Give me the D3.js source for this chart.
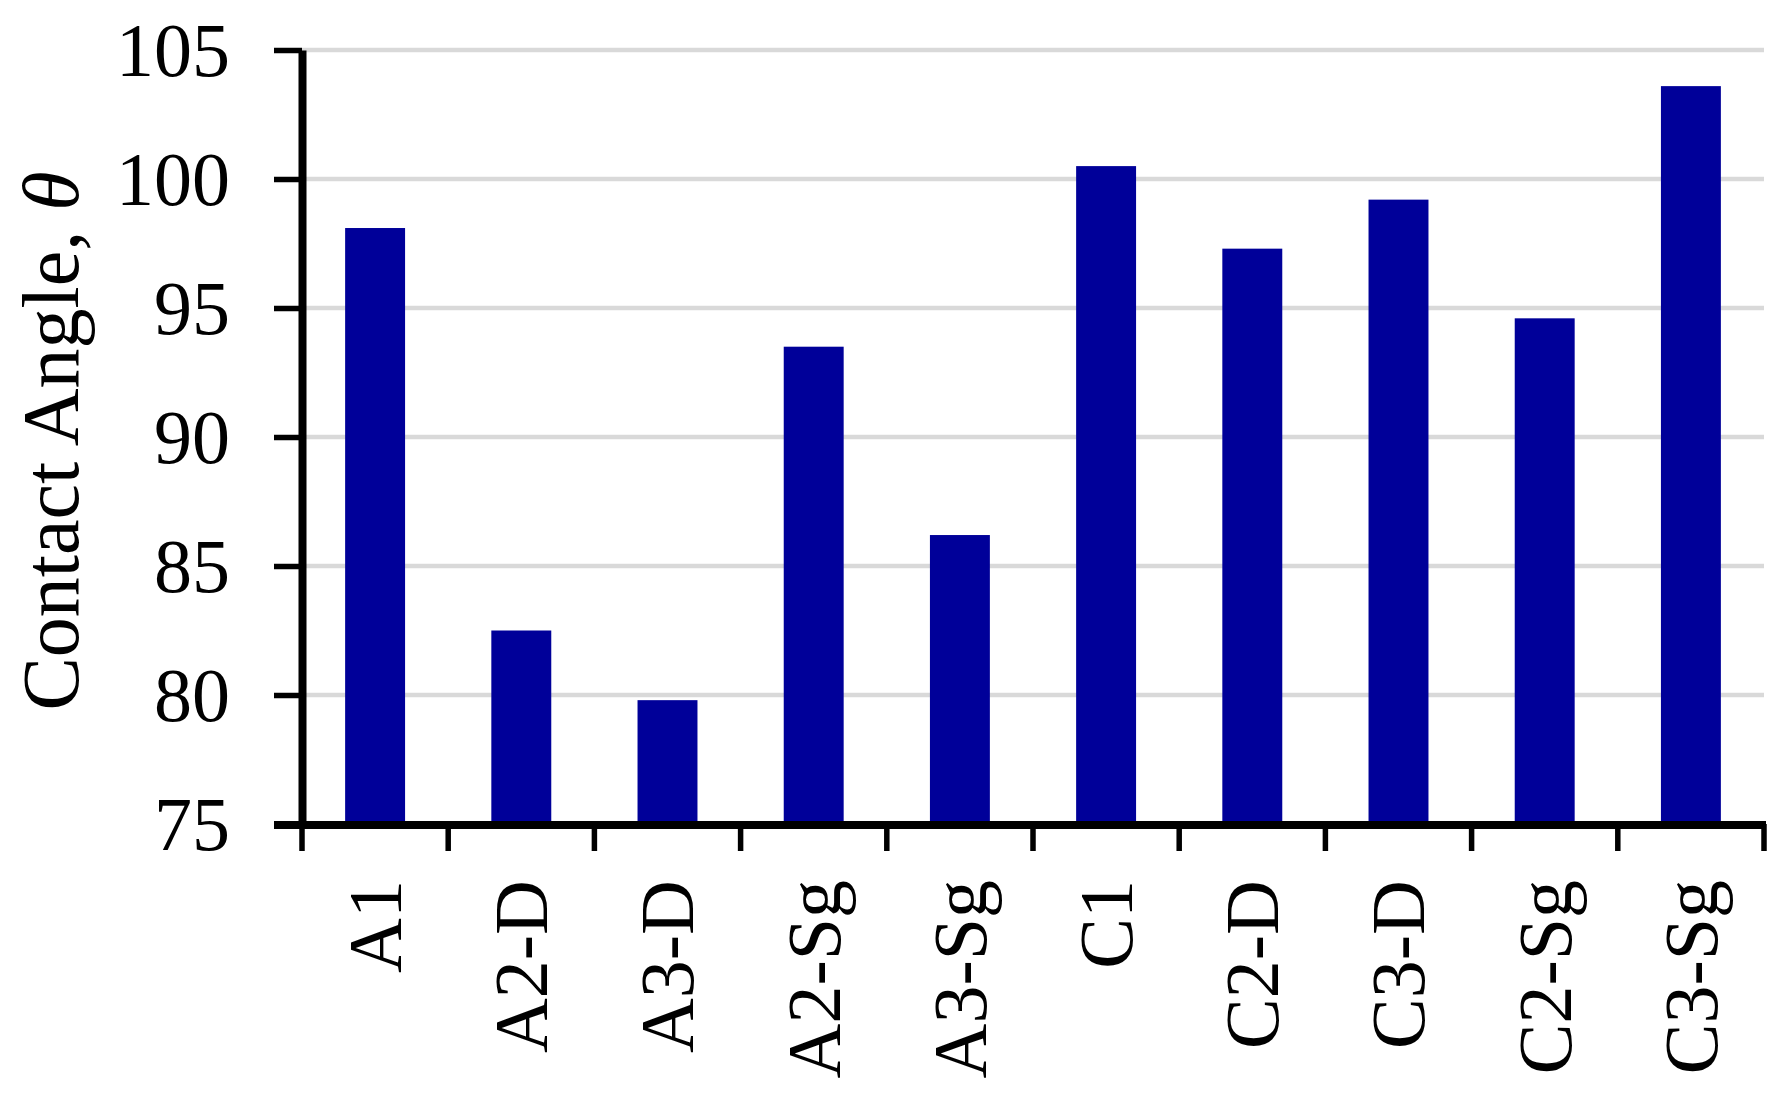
<!DOCTYPE html>
<html>
<head>
<meta charset="utf-8">
<script src="https://cdn.jsdelivr.net/npm/d3@7"></script>
<style>
  html, body { margin: 0; padding: 0; background: #fff; }
  svg { display: block; }
  text { font-family: "Liberation Serif", "Times New Roman", serif; fill: #000; }
</style>
</head>
<body>
<script>
const categories = ["A1", "A2-D", "A3-D", "A2-Sg", "A3-Sg", "C1", "C2-D", "C3-D", "C2-Sg", "C3-Sg"];
const contactAngles = [98.1, 82.5, 79.8, 93.5, 86.2, 100.5, 97.3, 99.2, 94.6, 103.6];
const yTicks = [75, 80, 85, 90, 95, 100, 105];
const yTitle = "Contact Angle, ";
const yTitleSymbol = "θ";

const W = 1787, H = 1096;
const plotLeft = 302, plotRight = 1764, plotTop = 50, plotBottom = 824;

const svg = d3.select("body").append("svg").attr("width", W).attr("height", H);

const y = d3.scaleLinear().domain([75, 105]).range([plotBottom, plotTop]);
const xBand = d3.scaleBand().domain(categories).range([plotLeft, plotRight]).paddingInner(0.59).paddingOuter(0.295);
const xCell = d3.scaleBand().domain(categories).range([plotLeft, plotRight]).padding(0);

// gridlines
svg.append("g").selectAll("line").data(yTicks.filter(d => d > 75)).join("line")
  .attr("x1", plotLeft).attr("x2", plotRight)
  .attr("y1", d => y(d)).attr("y2", d => y(d))
  .attr("stroke", "#d9d9d9").attr("stroke-width", 4.5);

// bars
svg.append("g").selectAll("rect").data(categories).join("rect")
  .attr("x", d => xBand(d))
  .attr("width", xBand.bandwidth())
  .attr("y", (d, i) => y(contactAngles[i]))
  .attr("height", (d, i) => y(75) - y(contactAngles[i]))
  .attr("fill", "#000099");

// y axis
const yAxis = d3.axisLeft(y).tickValues(yTicks).tickSize(28).tickSizeOuter(0).tickPadding(44);
const gy = svg.append("g").attr("transform", `translate(${plotLeft},0)`).call(yAxis);
gy.select(".domain").attr("stroke", "#000").attr("stroke-width", 8);
gy.selectAll(".tick line").attr("stroke", "#000").attr("stroke-width", 5.5);
gy.selectAll(".tick text").attr("font-size", 76).attr("font-family", "Liberation Serif").attr("dy", "0.34em");

// x axis
const tickXs = categories.map(c => xCell(c)).concat([plotRight]);
svg.append("line").attr("x1", plotLeft - 28).attr("x2", plotRight + 2)
  .attr("y1", plotBottom + 1).attr("y2", plotBottom + 1)
  .attr("stroke", "#000").attr("stroke-width", 8);
svg.append("g").selectAll("line").data(tickXs).join("line")
  .attr("x1", d => d).attr("x2", d => d)
  .attr("y1", plotBottom).attr("y2", plotBottom + 27)
  .attr("stroke", "#000").attr("stroke-width", 5.5);

// x labels
svg.append("g").selectAll("text").data(categories).join("text")
  .attr("transform", d => `translate(${xBand(d) + xBand.bandwidth() / 2},880) rotate(-90)`)
  .attr("text-anchor", "end")
  .attr("dy", "0.34em")
  .attr("font-size", 76)
  .text(d => d);

// y title
const t = svg.append("text")
  .attr("transform", `translate(51,441) rotate(-90)`)
  .attr("text-anchor", "middle")
  .attr("dy", "0.34em")
  .attr("font-size", 80);
t.append("tspan").text(yTitle);
t.append("tspan").attr("font-style", "italic").text(yTitleSymbol);
</script>
</body>
</html>
